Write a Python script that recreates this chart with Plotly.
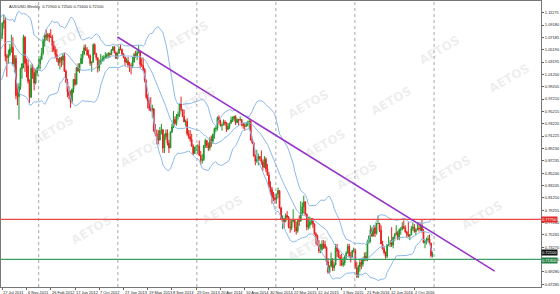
import pandas as pd
import plotly.graph_objects as go

# ---------------- data (AUDUSD weekly) ----------------
start_date = "2011-02-27"   # first (hidden) weekly bar, Sundays

open_ = [
    1.0160,1.0170,1.0000,1.0050,1.0160,1.0370,1.0470,1.0560,1.0740,1.0960,1.0790,1.0580,1.0590,1.0720,1.0640,1.0570,1.0560,1.0490,1.0730,1.0700,
    1.0760,1.0950,1.0990,1.0410,1.0390,1.0440,1.0530,1.0560,1.0290,1.0380,0.9780,0.9760,0.9920,1.0210,1.0290,1.0720,1.0300,1.0260,1.0010,0.9750,1.0220,1.0150,0.9980,1.0140,
    1.0220,1.0290,1.0370,1.0470,1.0660,1.0760,1.0720,1.0760,1.0730,1.0720,1.0590,1.0510,1.0440,1.0360,1.0310,1.0390,1.0350,1.0420,1.0170,1.0000,0.9840,0.9780,0.9680,0.9880,1.0040,0.9960,1.0230,1.0180,1.0290,1.0380,1.0450,1.0550,1.0510,1.0440,1.0420,1.0300,1.0320,1.0600,1.0450,1.0390,1.0220,1.0290,1.0340,1.0360,1.0390,1.0410,1.0440,1.0460,1.0440,1.0510,1.0560,1.0470,1.0380,
    1.0460,1.0530,1.0520,1.0450,1.0400,1.0320,1.0340,1.0270,1.0260,1.0250,1.0320,1.0440,1.0420,1.0470,1.0490,1.0280,1.0260,1.0200,1.0020,0.9750,0.9690,0.9570,0.9540,0.9560,0.9210,0.9160,0.9070,0.9060,0.9210,0.9220,0.8930,0.9110,0.9170,0.9010,0.8930,0.9190,0.9270,0.9390,0.9330,0.9450,0.9470,0.9640,0.9550,0.9440,0.9350,0.9360,0.9160,0.9110,0.9070,0.8960,0.8840,0.8940,
    0.8950,0.8960,0.8810,0.8730,0.8740,0.8970,0.9050,0.8970,0.8930,0.9070,0.9040,0.9150,0.9240,0.9250,0.9420,0.9360,0.9290,0.9300,0.9350,0.9330,0.9230,0.9280,0.9330,0.9380,0.9400,0.9440,0.9340,0.9390,0.9380,0.9390,0.9320,0.9290,0.9280,0.9310,0.9350,0.9360,0.9060,0.9010,0.8800,0.8720,0.8740,0.8790,0.8760,0.8700,0.8620,0.8750,0.8590,0.8490,0.8300,0.8260,0.8130,0.8120,
    0.8100,0.8190,0.8240,0.7960,0.7780,0.7790,0.7740,0.7840,0.7810,0.7650,0.7640,0.7740,0.7770,0.7650,0.7590,0.7760,0.7750,0.7880,0.7980,0.8060,0.7860,0.7650,0.7680,0.7740,0.7780,0.7700,0.7540,0.7510,0.7360,0.7270,0.7290,0.7380,0.7370,0.7320,0.7090,0.6920,0.7020,0.7110,0.6990,0.7040,0.7320,0.7260,0.7160,0.7130,0.7040,0.7070,0.7170,0.7230,0.7340,0.7180,0.7160,0.7270,
    0.7290,0.6990,0.6850,0.7010,0.7080,0.7050,0.7120,0.7180,0.7150,0.7420,0.7500,0.7610,0.7510,0.7640,0.7550,0.7710,0.7710,0.7600,0.7380,0.7300,0.7240,0.7180,0.7370,0.7380,0.7400,0.7360,0.7490,0.7530,0.7560,0.7470,0.7610,0.7610,0.7660,0.7640,0.7570,0.7530,0.7510,0.7530,0.7630,0.7650,0.7580,0.7610,0.7630,0.7620,0.7680,0.7590,0.7400,0.7430,0.7450,0.7460,0.7390,0.7190,
]
high = [
    1.0240,1.0250,1.0070,1.0190,1.0390,1.0490,1.0580,1.0770,1.0960,1.1010,1.0820,1.0700,1.0740,1.0780,1.0780,1.0660,1.0650,1.0780,1.0770,1.0790,
    1.0960,1.1080,1.1040,1.0450,1.0520,1.0610,1.0760,1.0720,1.0430,1.0430,0.9960,0.9980,1.0230,1.0300,1.0760,1.0740,1.0380,1.0360,1.0040,1.0280,1.0290,1.0220,1.0200,1.0240,
    1.0370,1.0420,1.0550,1.0690,1.0770,1.0850,1.0790,1.0790,1.0850,1.0760,1.0660,1.0570,1.0530,1.0380,1.0400,1.0410,1.0460,1.0470,1.0200,1.0050,0.9930,0.9860,0.9890,1.0040,1.0140,1.0240,1.0300,1.0300,1.0450,1.0500,1.0600,1.0600,1.0560,1.0520,1.0440,1.0330,1.0620,1.0620,1.0470,1.0390,1.0360,1.0450,1.0420,1.0430,1.0480,1.0460,1.0480,1.0470,1.0530,1.0580,1.0580,1.0490,1.0480,
    1.0570,1.0600,1.0540,1.0460,1.0400,1.0380,1.0400,1.0320,1.0300,1.0400,1.0470,1.0500,1.0520,1.0600,1.0510,1.0380,1.0390,1.0220,1.0040,0.9800,0.9710,0.9750,0.9630,0.9580,0.9320,0.9230,0.9220,0.9270,0.9320,0.9240,0.9160,0.9230,0.9230,0.9060,0.9200,0.9320,0.9530,0.9440,0.9480,0.9520,0.9650,0.9760,0.9560,0.9550,0.9390,0.9410,0.9220,0.9220,0.9160,0.8990,0.8950,0.8980,
    0.8990,0.9050,0.8880,0.8830,0.8980,0.9080,0.9060,0.9020,0.9110,0.9130,0.9160,0.9260,0.9280,0.9440,0.9460,0.9390,0.9320,0.9390,0.9380,0.9350,0.9330,0.9340,0.9440,0.9440,0.9450,0.9460,0.9410,0.9400,0.9440,0.9400,0.9340,0.9330,0.9350,0.9370,0.9400,0.9380,0.9070,0.9030,0.8830,0.8900,0.8840,0.8800,0.8890,0.8740,0.8800,0.8780,0.8670,0.8540,0.8390,0.8300,0.8220,0.8190,
    0.8190,0.8290,0.8250,0.7980,0.7840,0.7800,0.7870,0.7910,0.7830,0.7770,0.7770,0.7940,0.7780,0.7740,0.7780,0.7840,0.8070,0.8050,0.8160,0.8070,0.7870,0.7820,0.7820,0.7800,0.7800,0.7710,0.7570,0.7530,0.7440,0.7380,0.7440,0.7440,0.7430,0.7340,0.7150,0.7030,0.7240,0.7150,0.7080,0.7380,0.7380,0.7290,0.7200,0.7220,0.7160,0.7200,0.7260,0.7380,0.7380,0.7250,0.7280,0.7320,
    0.7300,0.7090,0.7040,0.7120,0.7140,0.7160,0.7240,0.7250,0.7450,0.7520,0.7680,0.7650,0.7680,0.7680,0.7720,0.7840,0.7720,0.7680,0.7430,0.7340,0.7260,0.7380,0.7500,0.7440,0.7650,0.7490,0.7550,0.7680,0.7590,0.7630,0.7650,0.7730,0.7760,0.7680,0.7590,0.7730,0.7530,0.7670,0.7730,0.7700,0.7630,0.7730,0.7710,0.7710,0.7780,0.7620,0.7450,0.7480,0.7520,0.7530,0.7400,0.7250,
]
low = [
    1.0090,0.9960,0.9710,1.0020,1.0150,1.0320,1.0400,1.0510,1.0710,1.0720,1.0560,1.0520,1.0520,1.0560,1.0570,1.0460,1.0440,1.0480,1.0650,1.0660,
    1.0690,1.0860,1.0330,1.0080,1.0290,1.0410,1.0470,1.0270,1.0150,0.9720,0.9620,0.9390,0.9870,1.0050,1.0220,1.0160,1.0070,0.9970,0.9660,0.9740,1.0050,0.9860,0.9960,1.0090,
    1.0190,1.0200,1.0350,1.0430,1.0570,1.0670,1.0660,1.0640,1.0710,1.0480,1.0480,1.0380,1.0320,1.0260,1.0200,1.0240,1.0270,1.0160,0.9980,0.9750,0.9720,0.9580,0.9650,0.9820,0.9930,0.9960,1.0160,1.0140,1.0290,1.0290,1.0430,1.0500,1.0420,1.0380,1.0260,1.0160,1.0310,1.0440,1.0350,1.0150,1.0170,1.0280,1.0330,1.0330,1.0380,1.0370,1.0380,1.0390,1.0440,1.0500,1.0460,1.0370,1.0360,
    1.0450,1.0510,1.0420,1.0380,1.0260,1.0300,1.0230,1.0160,1.0120,1.0220,1.0310,1.0390,1.0350,1.0460,1.0220,1.0240,1.0170,0.9990,0.9720,0.9570,0.9530,0.9520,0.9420,0.9190,0.9120,0.8990,0.8990,0.9050,0.9150,0.8850,0.8850,0.9060,0.8970,0.8850,0.8930,0.9170,0.9250,0.9300,0.9290,0.9390,0.9430,0.9520,0.9430,0.9350,0.9280,0.9130,0.9080,0.9030,0.8950,0.8810,0.8840,0.8880,
    0.8830,0.8800,0.8660,0.8680,0.8720,0.8930,0.8930,0.8880,0.8890,0.8950,0.9000,0.9080,0.9190,0.9210,0.9320,0.9280,0.9210,0.9300,0.9290,0.9190,0.9220,0.9240,0.9330,0.9350,0.9360,0.9300,0.9330,0.9300,0.9370,0.9280,0.9240,0.9210,0.9270,0.9280,0.9240,0.9050,0.8990,0.8790,0.8650,0.8690,0.8650,0.8720,0.8660,0.8560,0.8610,0.8540,0.8490,0.8290,0.8170,0.8030,0.8070,0.8030,
    0.8030,0.8120,0.7950,0.7770,0.7620,0.7630,0.7730,0.7790,0.7630,0.7560,0.7600,0.7730,0.7570,0.7530,0.7560,0.7670,0.7740,0.7840,0.7870,0.7840,0.7600,0.7610,0.7630,0.7690,0.7640,0.7530,0.7370,0.7350,0.7230,0.7230,0.7270,0.7300,0.7300,0.7040,0.6900,0.6910,0.7010,0.6940,0.6940,0.7030,0.7170,0.7150,0.7020,0.7020,0.7010,0.7030,0.7130,0.7220,0.7160,0.7080,0.7150,0.7240,
    0.6980,0.6830,0.6830,0.6930,0.6970,0.7010,0.7100,0.7100,0.7100,0.7380,0.7400,0.7490,0.7500,0.7490,0.7530,0.7700,0.7570,0.7380,0.7290,0.7210,0.7140,0.7150,0.7340,0.7330,0.7330,0.7310,0.7430,0.7520,0.7440,0.7440,0.7530,0.7600,0.7620,0.7560,0.7480,0.7490,0.7440,0.7520,0.7590,0.7560,0.7520,0.7600,0.7580,0.7590,0.7560,0.7390,0.7310,0.7370,0.7410,0.7370,0.7160,0.7160,
]
close = [
    1.0170,1.0000,1.0050,1.0160,1.0370,1.0470,1.0560,1.0740,1.0960,1.0790,1.0580,1.0590,1.0720,1.0640,1.0570,1.0560,1.0490,1.0730,1.0700,1.0760,
    1.0950,1.0990,1.0410,1.0390,1.0440,1.0530,1.0560,1.0290,1.0380,0.9780,0.9760,0.9920,1.0210,1.0290,1.0720,1.0300,1.0260,1.0010,0.9750,1.0220,1.0150,0.9980,1.0140,1.0220,
    1.0290,1.0370,1.0470,1.0660,1.0760,1.0720,1.0760,1.0730,1.0720,1.0590,1.0510,1.0440,1.0360,1.0310,1.0390,1.0350,1.0420,1.0170,1.0000,0.9840,0.9780,0.9680,0.9880,1.0040,0.9960,1.0230,1.0180,1.0290,1.0380,1.0450,1.0550,1.0510,1.0440,1.0420,1.0300,1.0320,1.0600,1.0450,1.0390,1.0220,1.0290,1.0340,1.0360,1.0390,1.0410,1.0440,1.0460,1.0440,1.0510,1.0560,1.0470,1.0380,1.0460,
    1.0530,1.0520,1.0450,1.0400,1.0320,1.0340,1.0270,1.0260,1.0250,1.0320,1.0440,1.0420,1.0470,1.0490,1.0280,1.0260,1.0200,1.0020,0.9750,0.9690,0.9570,0.9540,0.9560,0.9210,0.9160,0.9070,0.9060,0.9210,0.9220,0.8930,0.9110,0.9170,0.9010,0.8930,0.9190,0.9270,0.9390,0.9330,0.9450,0.9470,0.9640,0.9550,0.9440,0.9350,0.9360,0.9160,0.9110,0.9070,0.8960,0.8840,0.8940,0.8950,
    0.8960,0.8810,0.8730,0.8740,0.8970,0.9050,0.8970,0.8930,0.9070,0.9040,0.9150,0.9240,0.9250,0.9420,0.9360,0.9290,0.9300,0.9350,0.9330,0.9230,0.9280,0.9330,0.9380,0.9400,0.9440,0.9340,0.9390,0.9380,0.9390,0.9320,0.9290,0.9280,0.9310,0.9350,0.9360,0.9060,0.9010,0.8800,0.8720,0.8740,0.8790,0.8760,0.8700,0.8620,0.8750,0.8590,0.8490,0.8300,0.8260,0.8130,0.8120,0.8100,
    0.8190,0.8240,0.7960,0.7780,0.7790,0.7740,0.7840,0.7810,0.7650,0.7640,0.7740,0.7770,0.7650,0.7590,0.7760,0.7750,0.7880,0.7980,0.8060,0.7860,0.7650,0.7680,0.7740,0.7780,0.7700,0.7540,0.7510,0.7360,0.7270,0.7290,0.7380,0.7370,0.7320,0.7090,0.6920,0.7020,0.7110,0.6990,0.7040,0.7320,0.7260,0.7160,0.7130,0.7040,0.7070,0.7170,0.7230,0.7340,0.7180,0.7160,0.7270,0.7290,
    0.6990,0.6850,0.7010,0.7080,0.7050,0.7120,0.7180,0.7150,0.7420,0.7500,0.7610,0.7510,0.7640,0.7550,0.7710,0.7710,0.7600,0.7380,0.7300,0.7240,0.7180,0.7370,0.7380,0.7400,0.7360,0.7490,0.7530,0.7560,0.7470,0.7610,0.7610,0.7660,0.7640,0.7570,0.7530,0.7510,0.7530,0.7630,0.7650,0.7580,0.7610,0.7630,0.7620,0.7680,0.7590,0.7400,0.7430,0.7450,0.7460,0.7390,0.7190,0.7210,
]

x_labels = ["17 Jul 2011", "6 Nov 2011", "26 Feb 2012", "17 Jun 2012", "7 Oct 2012",
            "27 Jan 2013", "19 May 2013", "8 Sep 2013", "29 Dec 2013", "20 Apr 2014",
            "10 Aug 2014", "30 Nov 2014", "22 Mar 2015", "12 Jul 2015", "1 Nov 2015",
            "21 Feb 2016", "12 Jun 2016", "2 Oct 2016"]
y_ticks = [1.11175, 1.09180, 1.07185, 1.05190, 1.03195, 1.01200, 0.99205, 0.97210,
           0.95215, 0.93220, 0.91225, 0.89230, 0.87235, 0.85240, 0.83245, 0.81250,
           0.79255, 0.77260, 0.75265, 0.73270, 0.71275, 0.69280, 0.67285]
separator_dates = ["2012-01-01", "2013-01-01", "2014-01-01", "2015-01-01", "2016-01-01", "2017-01-01"]
trend_dates = ["2012-12-30", "2017-10-08"]
trend_prices = [1.0724, 0.6940]
resistance = 0.77750
support = 0.71300
x_range = ["2011-07-11", "2018-05-10"]
y_range = [0.6683, 1.1306]

# ---------------- styling ----------------
BULL = "rgb(30,150,40)"
BEAR = "rgb(235,30,30)"
BAND = "rgb(140,185,235)"
FONT = "Liberation Sans, Arial, sans-serif"

dates = pd.date_range(start_date, periods=len(close), freq="W-SUN")
s = pd.Series(close, index=dates)
mid = s.rolling(20).mean()
sd = s.rolling(20).std(ddof=0)
upper = mid + 2 * sd
lower = mid - 2 * sd

fig = go.Figure()
for band in (upper, mid, lower):
    fig.add_trace(go.Scatter(x=dates, y=band, mode="lines",
                             line=dict(color=BAND, width=1),
                             showlegend=False, hoverinfo="skip"))
fig.add_trace(go.Candlestick(
    x=dates, open=open_, high=high, low=low, close=close,
    increasing=dict(line=dict(color=BULL, width=1), fillcolor=BULL),
    decreasing=dict(line=dict(color=BEAR, width=1), fillcolor=BEAR),
    whiskerwidth=0, showlegend=False, hoverinfo="skip"))

shapes = []
for d in separator_dates:
    shapes.append(dict(type="line", xref="x", yref="paper", x0=d, x1=d, y0=0, y1=1,
                       line=dict(color="#a8a8a8", width=1, dash="dot")))
shapes.append(dict(type="line", xref="paper", yref="y", x0=0, x1=1, y0=resistance, y1=resistance,
                   line=dict(color="rgb(240,70,70)", width=1.3)))
shapes.append(dict(type="line", xref="paper", yref="y", x0=0, x1=1, y0=support, y1=support,
                   line=dict(color="rgb(60,160,100)", width=1.3)))
shapes.append(dict(type="line", xref="x", yref="y", x0=trend_dates[0], x1=trend_dates[1],
                   y0=trend_prices[0], y1=trend_prices[1],
                   line=dict(color="rgb(150,50,200)", width=1.5)))

ann = []
# watermarks
wm_pos = [(0.07, 0.93), (0.30, 0.95), (0.86, 0.90), (0.57, 0.71), (0.77, 0.65), (0.99, 0.80),
          (0.21, 0.47), (0.60, 0.50), (0.88, 0.41), (0.41, 0.20), (0.66, 0.32), (0.94, 0.18),
          (0.12, 0.13), (0.57, 0.07), (0.36, 0.72), (0.05, 0.55)]
for px, py in wm_pos:
    ann.append(dict(x=px, y=py, xref="paper", yref="paper", text="<b>AETOS</b>",
                    showarrow=False, textangle=-30,
                    font=dict(family="DejaVu Sans, sans-serif", size=12, color="rgba(175,175,175,0.22)")))
# x labels (left aligned at the tick)
for lab in x_labels:
    ann.append(dict(x=pd.to_datetime(lab, format="%d %b %Y"), y=0, xref="x", yref="paper",
                    text=lab, showarrow=False, xanchor="left", yanchor="top", yshift=-1, xshift=-1,
                    font=dict(family=FONT, size=4, color="#222")))
# header
last = len(close) - 1
ann.append(dict(x=0, y=1, xref="paper", yref="paper", xanchor="left", yanchor="top",
                xshift=6, yshift=-1, showarrow=False,
                text=f"AUDUSD,Weekly  {open_[last]:.5f} {high[last]:.5f} {low[last]:.5f} {close[last]:.5f}",
                font=dict(family=FONT, size=4, color="#222")))
# price boxes
for val, bg, ys in ((resistance, "rgb(225,40,40)", 0), (close[last], "#111111", 1.5),
                    (support, "rgb(40,130,70)", -1.5)):
    ann.append(dict(x=1, y=val, xref="paper", yref="y", xanchor="left", yanchor="middle",
                    yshift=ys, text=f"{val:.5f}", showarrow=False, bgcolor=bg, borderpad=0,
                    font=dict(family=FONT, size=4, color="white")))

fig.update_layout(
    width=560, height=294,
    margin=dict(l=0, r=17, t=1, b=7),
    paper_bgcolor="white", plot_bgcolor="white",
    shapes=shapes, annotations=ann,
    showlegend=False,
    xaxis=dict(type="date", range=x_range, rangeslider=dict(visible=False),
               showgrid=False, zeroline=False, showticklabels=False,
               tickvals=[pd.to_datetime(l, format="%d %b %Y") for l in x_labels],
               ticks="outside", ticklen=2, tickcolor="#666",
               showline=True, linecolor="#777", linewidth=1, mirror=True),
    yaxis=dict(range=y_range, side="right", showgrid=False, zeroline=False,
               tickvals=y_ticks, ticktext=[f"{v:.5f}" for v in y_ticks],
               ticks="outside", ticklen=2, tickcolor="#666",
               tickfont=dict(family=FONT, size=4, color="#222"),
               showline=True, linecolor="#777", linewidth=1, mirror=True),
)

fig.write_html("out.html")
